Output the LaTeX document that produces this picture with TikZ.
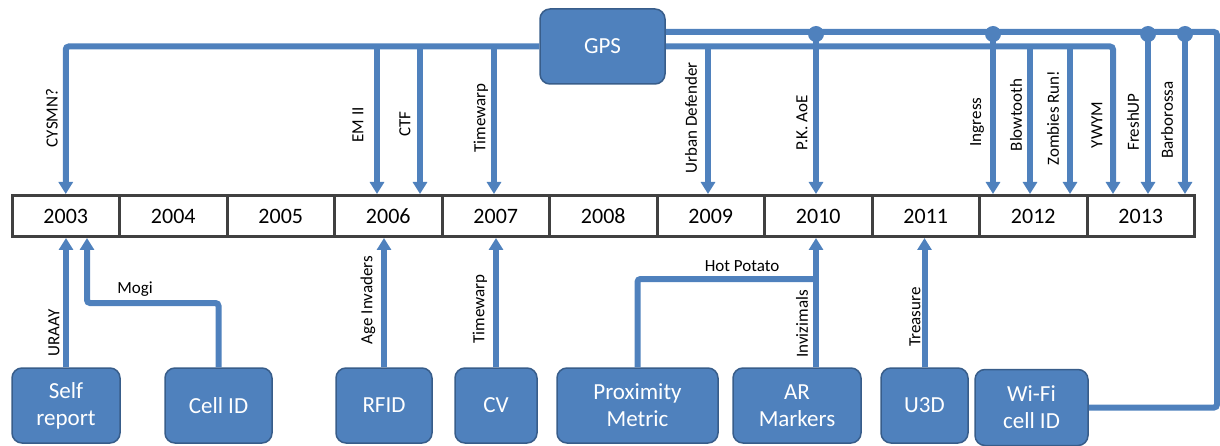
\documentclass[tikz,border=0pt]{standalone}
\usepackage{fontspec}
\setmainfont{Carlito}
\usepackage{xcolor}
\usepackage{tikz}
\usetikzlibrary{arrows.meta,positioning,calc}

\definecolor{linkblue}{RGB}{79,129,189}
\definecolor{techedge}{RGB}{56,93,138}
\newcommand{\gamefont}{\fontsize{17}{19}\selectfont}
\newcommand{\yearfont}{\fontsize{22}{24}\selectfont}
\newcommand{\techfont}{\fontsize{23}{27}\selectfont}

\tikzset{
  wire/.style={line width=6pt, draw=linkblue},
  feed/.style={wire, -{Triangle[width=14pt,length=12pt]}},
  tech/.style={draw=techedge, line width=1.5pt, fill=linkblue, rounded corners=10pt,
    text=white, font=\techfont, align=center, minimum height=75pt, inner sep=2pt},
  yearcell/.style={draw=black!75, line width=3pt, minimum width=107.5pt,
    minimum height=41pt, font=\yearfont},
  game/.style={font=\gamefont, rotate=90, inner sep=1pt},
  gameflat/.style={font=\gamefont, inner sep=1pt},
  junction/.style={circle, fill=linkblue, minimum size=16pt, inner sep=0pt}
}

\begin{document}
\begin{tikzpicture}[x=1pt,y=-1pt]
\useasboundingbox (0,0) rectangle (1220,446);

% Timeline of years
\foreach \yr [count=\i from 0] in {2003,...,2013}
  \node[yearcell] (y\yr) at ({65.75+107.5*\i},216) {\yr};

% Positioning technologies
\node[tech, minimum width=125pt] (gps) at (602.5,46.5) {GPS};
\node[tech, minimum width=108pt] (self) at (66,405.5) {Self\\report};
\node[tech, minimum width=107pt] (cellid) at (218.5,405.5) {Cell ID};
\node[tech, minimum width=96pt] (rfid) at (384,405.5) {RFID};
\node[tech, minimum width=82pt] (cv) at (496,405.5) {CV};
\node[tech, minimum width=161pt] (prox) at (637.5,405.5) {Proximity\\Metric};
\node[tech, minimum width=128pt] (ar) at (797,405.5) {AR\\Markers};
\node[tech, minimum width=87pt] (u3d) at (924.5,405.5) {U3D};
\node[tech, minimum width=113pt, minimum height=76pt] (wifi) at (1031.5,407.5) {Wi-Fi\\cell ID};

% GPS bus (lower line)
\draw[feed, rounded corners=3pt] (gps.west) -| (y2003.north);
\coordinate (ywym) at (1113,46.5);
\draw[feed, rounded corners=3pt] (gps.east) -| (ywym |- y2012.north);
\foreach \x/\yr in {377/2006, 420/2006, 494/2007, 708/2009, 1030/2012, 1070/2012} {
  \coordinate (tap\x) at (\x,46.5);
  \draw[feed] (tap\x) -- (tap\x |- y\yr.north);
}

% GPS + Wi-Fi line (upper line)
\coordinate (rim) at (1217,32);
\draw[wire, rounded corners=3pt] ([yshift=14.5pt]gps.east) -- (rim) |- (wifi.east);
\foreach \x/\yr in {816/2010, 993/2012, 1148/2013, 1185/2013} {
  \node[junction] (dot\x) at (\x,34) {};
  \draw[feed] (dot\x.center) -- (dot\x.center |- y\yr.north);
}

% Games above the timeline
\node[game] (cysmn) at (52,118) {CYSMN?};
\node[game] (emii) at (358,125) {EM II};
\node[game] (ctf) at (405,124) {CTF};
\node[game] (twgps) at (481,118) {Timewarp};
\node[game] (urban) at (691,118) {Urban Defender};
\node[game] (pkaoe) at (802,123) {P.K. AoE};
\node[game] (ingress) at (977,122) {Ingress};
\node[game] (blow) at (1016,115) {Blowtooth};
\node[game] (zombies) at (1053,118) {Zombies Run!};
\node[game] (ywymlbl) at (1097,125) {YWYM};
\node[game] (fresh) at (1133,122) {FreshUP};
\node[game] (barb) at (1167,120) {Barborossa};

% Links below the timeline
\draw[feed] (self.north) -- (self.north |- y2003.south);
\coordinate (mogiknee) at (87,303);
\draw[feed, rounded corners=3pt] (cellid.north) |- (mogiknee) -- (mogiknee |- y2003.south);
\draw[feed] (rfid.north) -- (rfid.north |- y2006.south);
\draw[feed] (cv.north) -- (cv.north |- y2007.south);
\coordinate (hotknee) at (816,279);
\draw[wire, rounded corners=3pt] (prox.north) |- (hotknee);
\draw[feed] ([xshift=19pt]ar.north) -- ([xshift=19pt]ar.north |- y2010.south);
\draw[feed] (u3d.north) -- (u3d.north |- y2011.south);

% Games below the timeline
\node[game] (uraay) at (54,333) {URAAY};
\node[gameflat] (mogi) at (135,289) {Mogi};
\node[game] (ageinv) at (368,300) {Age Invaders};
\node[game] (twcv) at (480,309) {Timewarp};
\node[gameflat] (hotpot) at (742,266) {Hot Potato};
\node[game] (inviz) at (802,324) {Invizimals};
\node[game] (treasure) at (915,317) {Treasure};

\end{tikzpicture}
\end{document}
